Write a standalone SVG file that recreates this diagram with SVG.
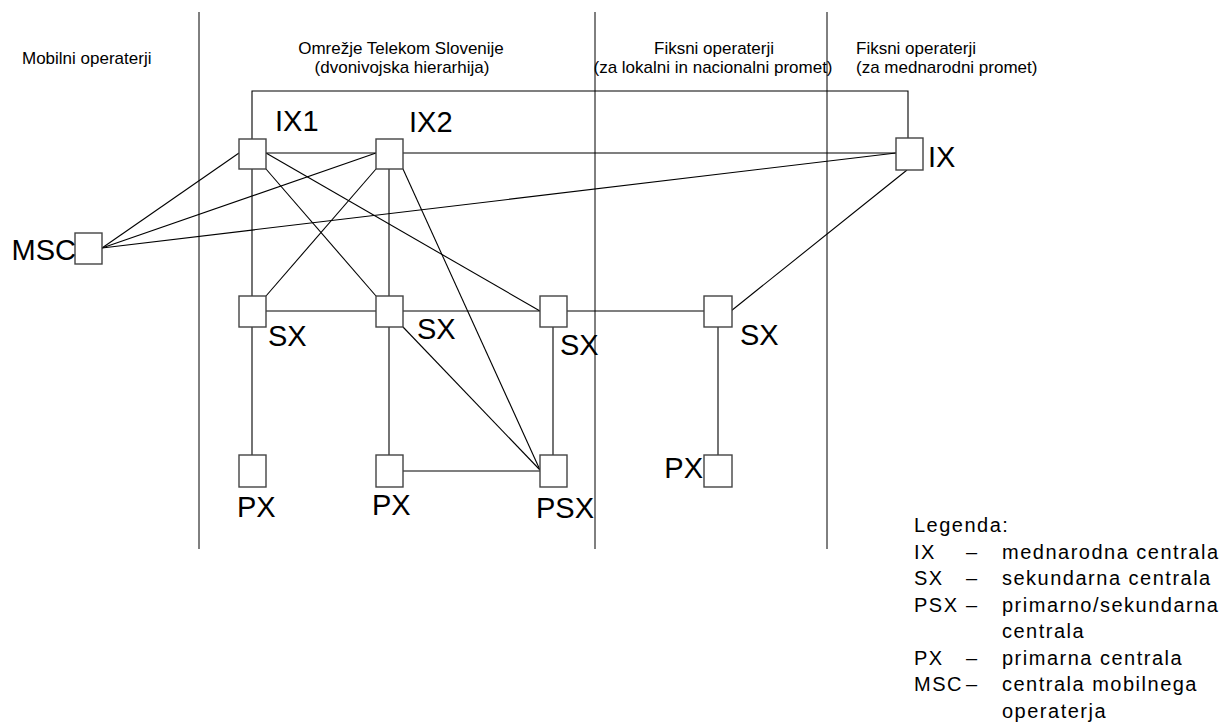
<svg xmlns="http://www.w3.org/2000/svg" width="1229" height="724" viewBox="0 0 1229 724">
<style>
.bg{fill:#ffffff}
.sep{stroke:#000;stroke-width:1;fill:none}
.ln{stroke:#000;stroke-width:1.1;fill:none}
.box{fill:#fff;stroke:#444;stroke-width:1.4}
.hd{font-family:"Liberation Sans",Arial,sans-serif;font-size:17px;fill:#000}
.lb{font-family:"Liberation Sans",Arial,sans-serif;font-size:29px;fill:#000}
.lg{font-family:"Liberation Sans",Arial,sans-serif;font-size:20px;letter-spacing:1.5px;fill:#000}
</style>
<rect class="bg" x="0" y="0" width="1229" height="724"/>
<g id="separators">
<line class="sep" x1="199" y1="12" x2="199" y2="549"/>
<line class="sep" x1="595" y1="12" x2="595" y2="549"/>
<line class="sep" x1="827" y1="12" x2="827" y2="549"/>
</g>
<g id="headers">
<text class="hd" x="22" y="64">Mobilni operaterji</text>
<text class="hd" x="401" y="54" text-anchor="middle">Omrežje Telekom Slovenije</text>
<text class="hd" x="402" y="73" text-anchor="middle">(dvonivojska hierarhija)</text>
<text class="hd" x="714" y="54" text-anchor="middle">Fiksni operaterji</text>
<text class="hd" x="713" y="73" text-anchor="middle">(za lokalni in nacionalni promet)</text>
<text class="hd" x="856" y="54">Fiksni operaterji</text>
<text class="hd" x="856" y="73">(za mednarodni promet)</text>
</g>
<g id="connectors">
<polyline class="ln" points="252,139 252,91 908,91 908,138"/>
<line class="ln" x1="266" y1="153" x2="376" y2="153"/>
<line class="ln" x1="403" y1="153" x2="896" y2="153"/>
<line class="ln" x1="102" y1="248" x2="239" y2="153"/>
<line class="ln" x1="102" y1="248" x2="376" y2="153"/>
<line class="ln" x1="102" y1="248" x2="896" y2="153"/>
<line class="ln" x1="252" y1="169" x2="252" y2="296"/>
<line class="ln" x1="266" y1="169" x2="376" y2="296"/>
<line class="ln" x1="266" y1="153" x2="540" y2="311"/>
<line class="ln" x1="376" y1="169" x2="266" y2="296"/>
<line class="ln" x1="389" y1="169" x2="389" y2="296"/>
<line class="ln" x1="403" y1="169" x2="540" y2="470"/>
<line class="ln" x1="266" y1="311" x2="376" y2="311"/>
<line class="ln" x1="403" y1="311" x2="540" y2="311"/>
<line class="ln" x1="567" y1="311" x2="704" y2="311"/>
<line class="ln" x1="731" y1="311" x2="907" y2="170"/>
<line class="ln" x1="252" y1="327" x2="252" y2="455"/>
<line class="ln" x1="389" y1="327" x2="389" y2="455"/>
<line class="ln" x1="403" y1="327" x2="540" y2="470"/>
<line class="ln" x1="553" y1="327" x2="553" y2="455"/>
<line class="ln" x1="403" y1="471" x2="540" y2="471"/>
<line class="ln" x1="718" y1="327" x2="718" y2="455"/>
</g>
<g id="node-ix1"><rect class="box" x="239" y="139" width="27" height="30"/><text class="lb" x="275" y="131">IX1</text></g>
<g id="node-ix2"><rect class="box" x="376" y="139" width="27" height="30"/><text class="lb" x="409" y="132">IX2</text></g>
<g id="node-ix"><rect class="box" x="896" y="138" width="27" height="32"/><text class="lb" x="928" y="167">IX</text></g>
<g id="node-msc"><rect class="box" x="75" y="233" width="27" height="31"/><text class="lb" x="76" y="260" text-anchor="end">MSC</text></g>
<g id="node-sx1"><rect class="box" x="239" y="296" width="27" height="31"/><text class="lb" x="268" y="346">SX</text></g>
<g id="node-sx2"><rect class="box" x="376" y="296" width="27" height="31"/><text class="lb" x="417" y="339">SX</text></g>
<g id="node-sx3"><rect class="box" x="540" y="296" width="27" height="31"/><text class="lb" x="560" y="355">SX</text></g>
<g id="node-sx4"><rect class="box" x="704" y="296" width="28" height="31"/><text class="lb" x="740" y="345">SX</text></g>
<g id="node-px1"><rect class="box" x="239" y="455" width="27" height="32"/><text class="lb" x="237" y="517">PX</text></g>
<g id="node-px2"><rect class="box" x="376" y="455" width="27" height="32"/><text class="lb" x="372" y="515">PX</text></g>
<g id="node-psx"><rect class="box" x="540" y="455" width="27" height="32"/><text class="lb" x="536" y="518">PSX</text></g>
<g id="node-px4"><rect class="box" x="704" y="455" width="28" height="32"/><text class="lb" x="703" y="478" text-anchor="end">PX</text></g>
<g id="legend">
<text class="lg" x="914" y="532">Legenda:</text>
<text class="lg" x="914" y="558.5">IX</text><text class="lg" x="966" y="558.5">–</text><text class="lg" x="1002" y="558.5">mednarodna centrala</text>
<text class="lg" x="914" y="585">SX</text><text class="lg" x="966" y="585">–</text><text class="lg" x="1002" y="585">sekundarna centrala</text>
<text class="lg" x="914" y="611.5">PSX</text><text class="lg" x="966" y="611.5">–</text><text class="lg" x="1002" y="611.5">primarno/sekundarna</text>
<text class="lg" x="1002" y="638">centrala</text>
<text class="lg" x="914" y="664.5">PX</text><text class="lg" x="966" y="664.5">–</text><text class="lg" x="1002" y="664.5">primarna centrala</text>
<text class="lg" x="914" y="691">MSC</text><text class="lg" x="966" y="691">–</text><text class="lg" x="1002" y="691">centrala mobilnega</text>
<text class="lg" x="1002" y="717.5">operaterja</text>
</g>
</svg>
